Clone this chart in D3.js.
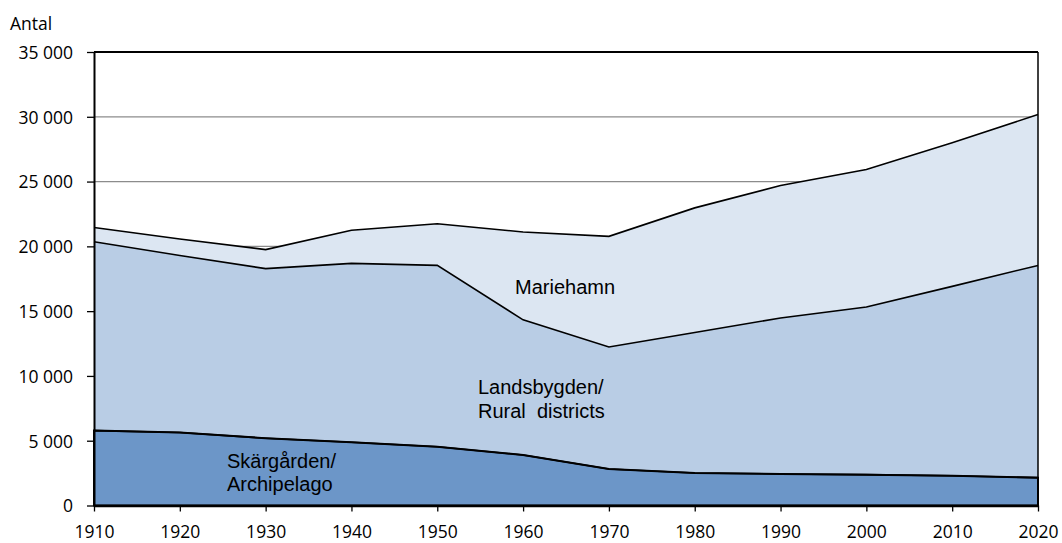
<!DOCTYPE html>
<html>
<head>
<meta charset="utf-8">
<script src="https://cdn.jsdelivr.net/npm/d3@7"></script>
<style>
  body { margin: 0; background: #fff; }
  .tick text { font-family: "Open Sans", sans-serif; font-size: 17.5px; fill: #000; }
  .lbl { font-family: "Liberation Sans", Arial, sans-serif; font-size: 20px; fill: #000; }
</style>
</head>
<body>
<div class="graph"></div>
<script>
// data (persons)
var years = [1910, 1920, 1930, 1940, 1950, 1960, 1970, 1980, 1990, 2000, 2010, 2020];
var skargarden = [5780, 5630, 5190, 4880, 4540, 3900, 2820, 2510, 2430, 2380, 2300, 2150];
var landsbygden = [14580, 13670, 13090, 13810, 13990, 10430, 9410, 10840, 12040, 12940, 14610, 16380];
var mariehamn = [1090, 1270, 1470, 2550, 3220, 6780, 8540, 9620, 10220, 10610, 11080, 11650];
var yTicks = [0, 5000, 10000, 15000, 20000, 25000, 30000, 35000];

var margin = {top: 52, right: 24, bottom: 37.5, left: 94},
    width = 1062 - margin.left - margin.right,
    height = 543 - margin.top - margin.bottom;

var rows = years.map(function(y, i) {
  return {year: y, skar: skargarden[i], land: landsbygden[i], mhamn: mariehamn[i]};
});

var x = d3.scaleLinear().domain([1910, 2020]).range([0, width]);
var y = d3.scaleLinear().domain([0, 35000]).range([height, 0]);

var fmt = d3.formatLocale({decimal: ",", thousands: "\u00a0", grouping: [3], currency: ["", ""]}).format(",d");

var svg = d3.select(".graph").append("svg")
    .attr("width", 1062)
    .attr("height", 543)
  .append("g")
    .attr("transform", "translate(" + margin.left + "," + margin.top + ")");

// gridlines
svg.append("g").selectAll("line")
    .data(yTicks.slice(1, -1))
  .enter().append("line")
    .attr("x1", 0).attr("x2", width)
    .attr("y1", function(d) { return y(d); })
    .attr("y2", function(d) { return y(d); })
    .attr("stroke", "#8c8c8c")
    .attr("stroke-width", 1.2);

var stack = d3.stack().keys(["skar", "land", "mhamn"]);
var layers = stack(rows);
var colors = {skar: "#6c96c8", land: "#b9cde5", mhamn: "#dce6f2"};

var area = d3.area()
    .x(function(d) { return x(d.data.year); })
    .y0(function(d) { return y(d[0]); })
    .y1(function(d) { return y(d[1]); });

var topline = d3.line()
    .x(function(d) { return x(d.data.year); })
    .y(function(d) { return y(d[1]); });

svg.selectAll(".layer")
    .data(layers.slice().reverse())
  .enter().append("path")
    .attr("class", "layer")
    .attr("fill", function(d) { return colors[d.key]; })
    .attr("d", area);

svg.selectAll(".edge")
    .data(layers)
  .enter().append("path")
    .attr("class", "edge")
    .attr("fill", "none")
    .attr("stroke", "#000")
    .attr("stroke-width", 1.6)
    .attr("d", topline);

// outline of archipelago area
svg.append("path")
    .datum(layers[0])
    .attr("fill", "none")
    .attr("stroke", "#000")
    .attr("stroke-width", 2)
    .attr("d", area);

// plot border
svg.append("line").attr("x1", 0).attr("x2", width).attr("y1", 0).attr("y2", 0)
    .attr("stroke", "#000").attr("stroke-width", 1.8);
svg.append("line").attr("x1", width).attr("x2", width).attr("y1", 0).attr("y2", height)
    .attr("stroke", "#000").attr("stroke-width", 1.5);

// axes
var yAxis = svg.append("g")
    .attr("class", "yaxis")
    .call(d3.axisLeft(y).tickValues(yTicks).tickFormat(fmt).tickSizeInner(7).tickSizeOuter(0).tickPadding(14));
yAxis.selectAll("text").attr("dy", "0.36em");
yAxis.select(".domain").attr("stroke-width", 2);
yAxis.selectAll(".tick line").attr("stroke-width", 1.3);

var xAxis = svg.append("g")
    .attr("class", "xaxis")
    .attr("transform", "translate(0," + height + ")")
    .call(d3.axisBottom(x).tickValues(years).tickFormat(d3.format("d")).tickSizeInner(6).tickSizeOuter(0).tickPadding(14));
xAxis.select(".domain").attr("stroke-width", 2.5);
xAxis.selectAll(".tick line").attr("stroke-width", 1.3);

// titles and labels
d3.select("svg").append("text")
    .attr("x", 10).attr("y", 30)
    .attr("font-family", "Open Sans, sans-serif")
    .attr("font-size", 17.5)
    .text("Antal");

svg.append("text").attr("class", "lbl")
    .attr("x", 515 - margin.left).attr("y", 294 - margin.top)
    .text("Mariehamn");
svg.append("text").attr("class", "lbl")
    .attr("x", 478 - margin.left).attr("y", 394 - margin.top)
    .text("Landsbygden/");
svg.append("text").attr("class", "lbl")
    .attr("x", 478 - margin.left).attr("y", 418 - margin.top)
    .attr("xml:space", "preserve")
    .text("Rural  districts");
svg.append("text").attr("class", "lbl")
    .attr("x", 227 - margin.left).attr("y", 468 - margin.top)
    .text("Skärgården/");
svg.append("text").attr("class", "lbl")
    .attr("x", 227 - margin.left).attr("y", 491 - margin.top)
    .text("Archipelago");
</script>
</body>
</html>
